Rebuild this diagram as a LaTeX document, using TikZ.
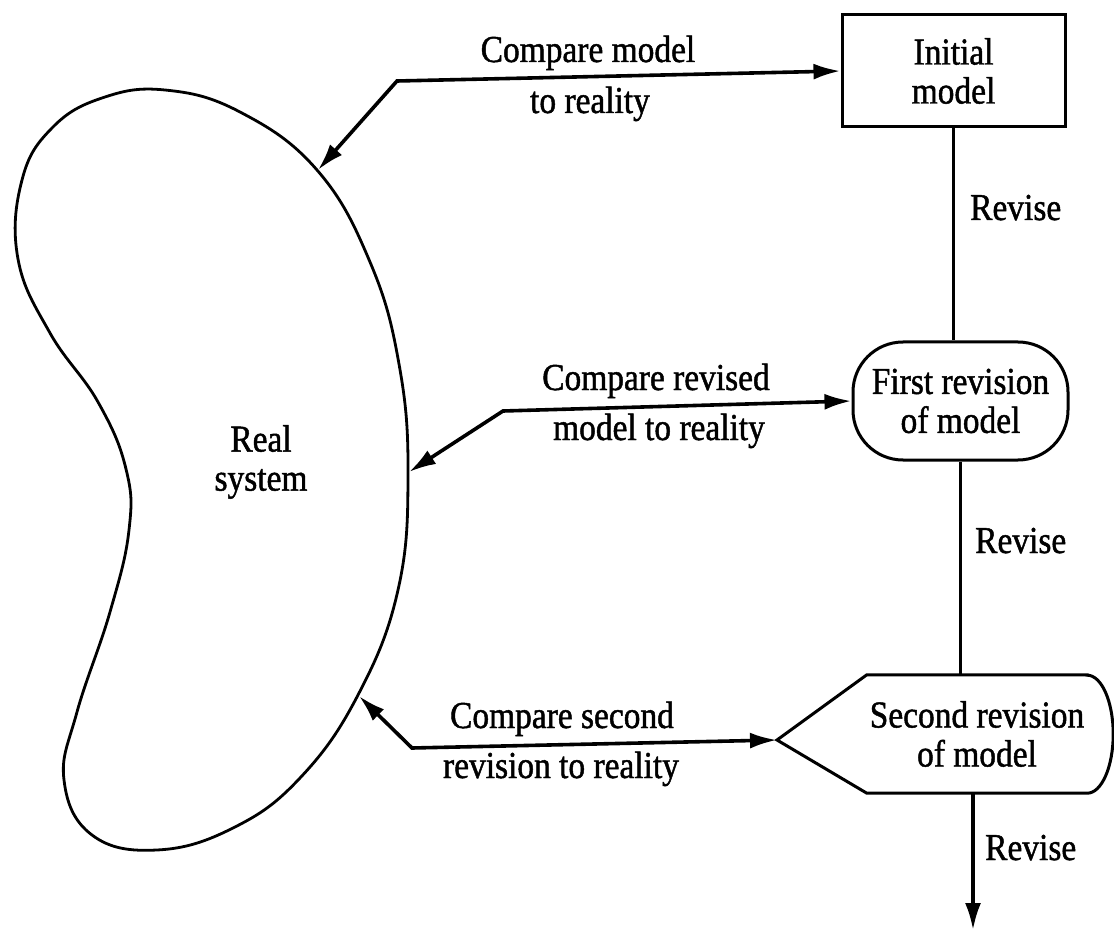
\documentclass[tikz,border=0pt]{standalone}
\usepackage{fontspec}
\setmainfont{Liberation Serif}[FakeStretch=0.88,FakeBold=1.2]
\usetikzlibrary{arrows.meta,shapes.misc}
\begin{document}
\begin{tikzpicture}[x=1pt,y=-1pt,
  every node/.style={font=\fontsize{38}{39}\selectfont, inner sep=0pt},
  outline/.style={draw=black, line width=3pt},
  conn/.style={draw=black, line width=3.6pt, line join=miter},
  tip/.style={-{Latex[length=27pt,width=16pt]}},
  both/.style={{Latex[length=27pt,width=16pt]}-{Latex[length=27pt,width=16pt]}},
  lbl/.style={anchor=base},
  rev/.style={anchor=base west}]
\useasboundingbox (0,0) rectangle (1114,933);

% Real system (bean)
\draw[outline, line width=2.8pt] plot[smooth cycle, tension=0.7] coordinates {
 (165,90) (240,112) (317,170) (370,262) (399,364) (408,474) (398,590)
 (358,695) (300,778) (233,828) (157,850) (92,835) (64,780)
 (77,712) (110,612) (129,530) (126,469) (98,402) (50,333) (18,259)
 (22,180) (52,128) (102,98)};
\node[align=center] (real) at (261,462) {Real\\system};
\coordinate (bA) at (318,170);
\coordinate (bB) at (409,472);
\coordinate (bC) at (359,696);

% model nodes
\node[outline, rectangle, minimum width=223pt, minimum height=112pt, align=center]
  (init) at (953.5,71) {Initial\\model};
\node[outline, rectangle, rounded corners=50pt, minimum width=215pt, minimum height=118pt, align=center]
  (first) at (960.5,401) {First revision\\of model};
\node[rectangle, minimum width=220pt, minimum height=118pt, align=center]
  (second) at (977,734) {Second revision\\of model};
\coordinate (secondtip) at (777,740);
\draw[outline] (second.north east) -- (second.north west) -- (secondtip)
  -- (second.south west) -- (second.south east)
  arc[start angle=90, end angle=-90, x radius=26, y radius=59] -- cycle;

% bends
\coordinate (k1) at (397,81);
\coordinate (k2) at (503,411);
\coordinate (k3) at (412,748);
\coordinate (endpt) at (973,930);

% compare arrows
\draw[conn, both] (bA) -- (k1) -- (init.west);
\draw[conn, both] (bB) -- (k2) -- (first.west);
\draw[conn, both] (bC) -- (k3) -- (secondtip);

\node[lbl] (l1a) at (588,62) {Compare model};
\node[lbl] (l1b) at (590,113) {to reality};
\node[lbl] (l2a) at (656,390) {Compare revised};
\node[lbl] (l2b) at (659,440) {model to reality};
\node[lbl] (l3a) at (562,728) {Compare second};
\node[lbl] (l3b) at (561,778) {revision to reality};

% revise connectors
\draw[outline] (init.south) -- (init.south |- first.north);
\draw[outline] (first.south) -- (first.south |- second.north);
\draw[outline, line width=3.4pt, tip] (endpt |- second.south) -- (endpt);
\node[rev] (r1) at (970,220) {Revise};
\node[rev] (r2) at (975,553) {Revise};
\node[rev] (r3) at (985,860) {Revise};
\end{tikzpicture}
\end{document}
